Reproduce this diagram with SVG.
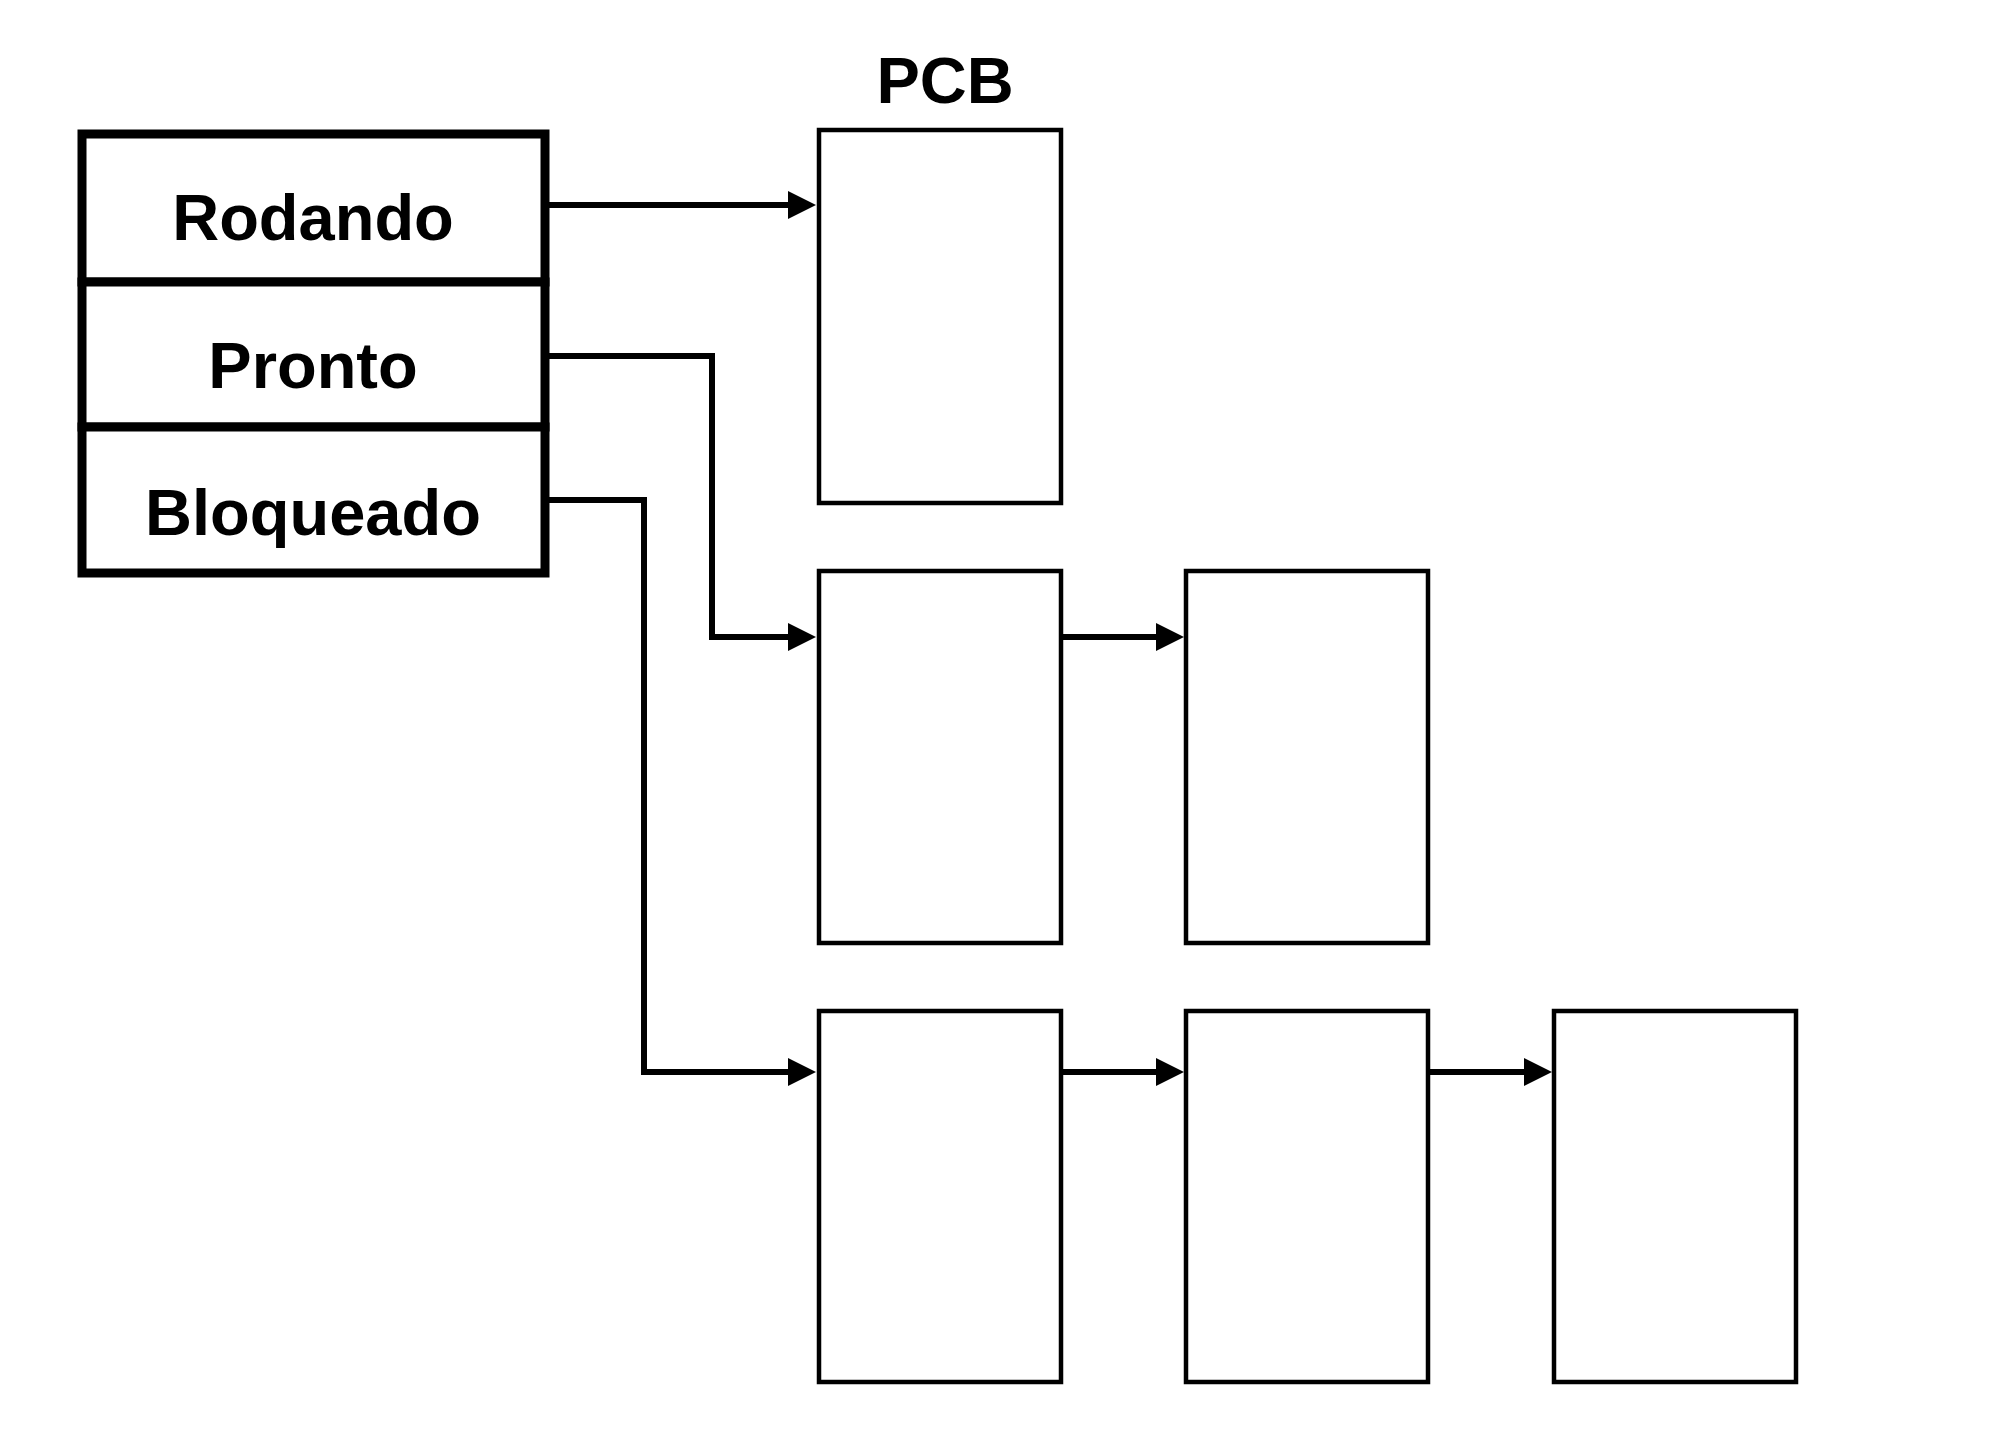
<svg xmlns="http://www.w3.org/2000/svg" width="2000" height="1446" viewBox="0 0 2000 1446">
  <style>
    .state { fill: #ffffff; stroke: #000000; stroke-width: 9; }
    .pcb { fill: #ffffff; stroke: #000000; stroke-width: 4.5; }
    .lbl { font-family: "Liberation Sans", Arial, Helvetica, sans-serif; font-weight: bold; font-size: 65px; fill: #000000; text-anchor: middle; }
    .conn { fill: none; stroke: #000000; stroke-width: 6; stroke-linejoin: miter; marker-end: url(#arrow); }
  </style>
  <defs>
    <marker id="arrow" markerUnits="userSpaceOnUse" markerWidth="28" markerHeight="28" refX="12" refY="14" orient="auto" overflow="visible">
      <path d="M0,0 L28,14 L0,28 Z" fill="#000000"/>
    </marker>
  </defs>
  <rect width="2000" height="1446" fill="#ffffff"/>

  <g id="title">
    <text class="lbl" x="945" y="103" font-size="64">PCB</text>
  </g>

  <g id="state-rodando">
    <rect class="state" x="82" y="134" width="463" height="148"/>
    <text class="lbl" x="313" y="240">Rodando</text>
  </g>
  <g id="state-pronto">
    <rect class="state" x="82" y="282" width="463" height="145"/>
    <text class="lbl" x="313" y="388">Pronto</text>
  </g>
  <g id="state-bloqueado">
    <rect class="state" x="82" y="427" width="463" height="146"/>
    <text class="lbl" x="313" y="535">Bloqueado</text>
  </g>

  <g id="pcb-r1c1"><rect class="pcb" x="819" y="130" width="242" height="373"/></g>
  <g id="pcb-r2c1"><rect class="pcb" x="819" y="571" width="242" height="372"/></g>
  <g id="pcb-r2c2"><rect class="pcb" x="1186" y="571" width="242" height="372"/></g>
  <g id="pcb-r3c1"><rect class="pcb" x="819" y="1011" width="242" height="371"/></g>
  <g id="pcb-r3c2"><rect class="pcb" x="1186" y="1011" width="242" height="371"/></g>
  <g id="pcb-r3c3"><rect class="pcb" x="1554" y="1011" width="242" height="371"/></g>

  <g id="connectors">
    <path class="conn" d="M549,205 H800"/>
    <path class="conn" d="M549,356 H712 V637 H800"/>
    <path class="conn" d="M549,500 H644 V1072 H800"/>
    <path class="conn" d="M1063,637 H1168"/>
    <path class="conn" d="M1063,1072 H1168"/>
    <path class="conn" d="M1430,1072 H1536"/>
  </g>
</svg>
